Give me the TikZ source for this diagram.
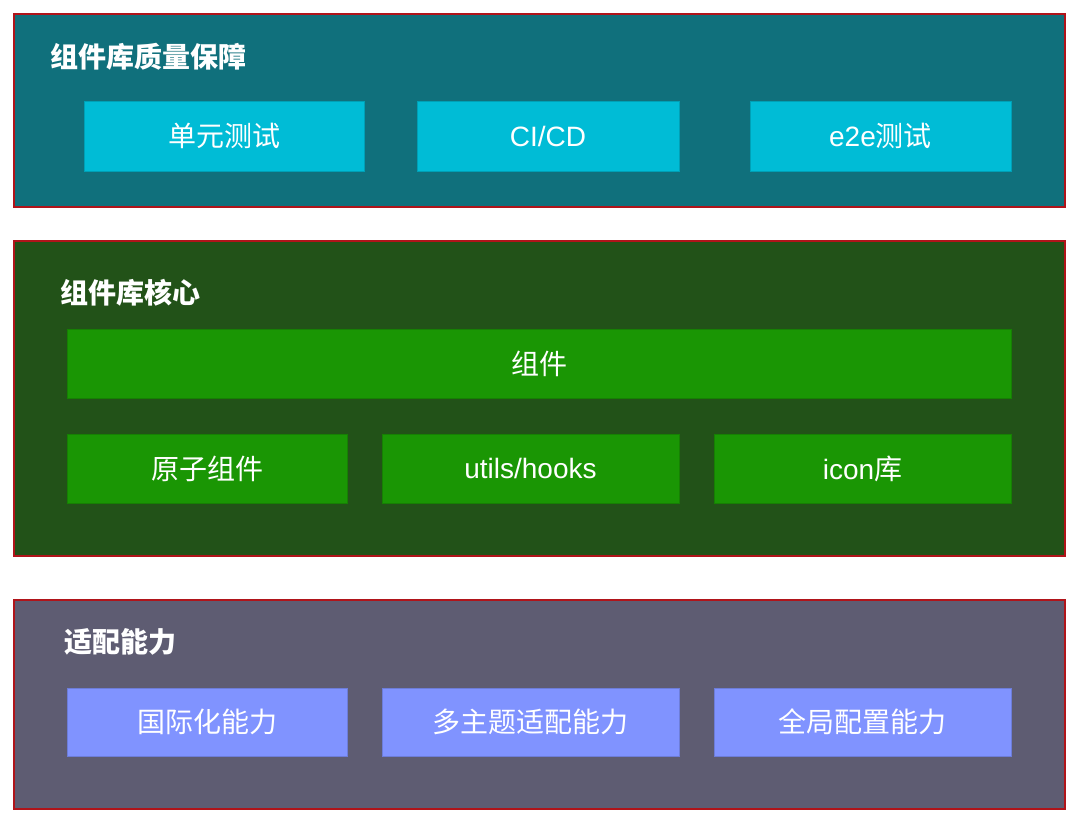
\documentclass[tikz,border=0pt]{standalone}
\usepackage{fontspec}
\setmainfont{Liberation Sans}
\newfontfamily\cjk{Noto Sans CJK SC}
\definecolor{layerA}{HTML}{10707C}
\definecolor{layerB}{HTML}{225218}
\definecolor{layerC}{HTML}{5E5C72}
\definecolor{boxA}{HTML}{00BCD6}
\definecolor{boxB}{HTML}{1A9604}
\definecolor{boxC}{HTML}{8093FF}
\definecolor{frameRed}{HTML}{B0141A}
\tikzset{
  layer/.style={draw=frameRed, line width=1.2pt},
  item/.style={line width=0.8pt, text=white, font=\fontsize{28}{32}\selectfont, inner sep=0pt},
  ltitle/.style={text=white, anchor=west, font=\cjk\bfseries\fontsize{28}{32}\selectfont, inner sep=0pt},
}
\begin{document}
\begin{tikzpicture}[x=1pt,y=-1pt]
\useasboundingbox (0,0) rectangle (1080,826);
% layer 1
\path[layer, fill=layerA] (14,14) rectangle (1065,207);
\node[ltitle] (t1) at (50,57) {组件库质量保障};
\path[item, fill=boxA, draw=boxA!85!black] (84,101) rectangle (364,171) node[midway] (a1) {\cjk 单元测试};
\path[item, fill=boxA, draw=boxA!85!black] (417,101) rectangle (679,171) node[midway] (a2) {CI/CD};
\path[item, fill=boxA, draw=boxA!85!black] (750,101) rectangle (1011,171) node[midway] (a3) {e2e{\cjk 测试}};
% layer 2
\path[layer, fill=layerB] (14,241) rectangle (1065,556);
\node[ltitle] (t2) at (60,293) {组件库核心};
\path[item, fill=boxB, draw=boxB!85!black] (67,329) rectangle (1011,398) node[midway] (b0) {\cjk 组件};
\path[item, fill=boxB, draw=boxB!85!black] (67,434) rectangle (347,503) node[midway] (b1) {\cjk 原子组件};
\path[item, fill=boxB, draw=boxB!85!black] (382,434) rectangle (679,503) node[midway] (b2) {utils/hooks};
\path[item, fill=boxB, draw=boxB!85!black] (714,434) rectangle (1011,503) node[midway] (b3) {icon{\cjk 库}};
% layer 3
\path[layer, fill=layerC] (14,600) rectangle (1065,809);
\node[ltitle] (t3) at (64,642) {适配能力};
\path[item, fill=boxC, draw=boxC!85!black] (67,688) rectangle (347,756) node[midway] (c1) {\cjk 国际化能力};
\path[item, fill=boxC, draw=boxC!85!black] (382,688) rectangle (679,756) node[midway] (c2) {\cjk 多主题适配能力};
\path[item, fill=boxC, draw=boxC!85!black] (714,688) rectangle (1011,756) node[midway] (c3) {\cjk 全局配置能力};
\end{tikzpicture}
\end{document}
